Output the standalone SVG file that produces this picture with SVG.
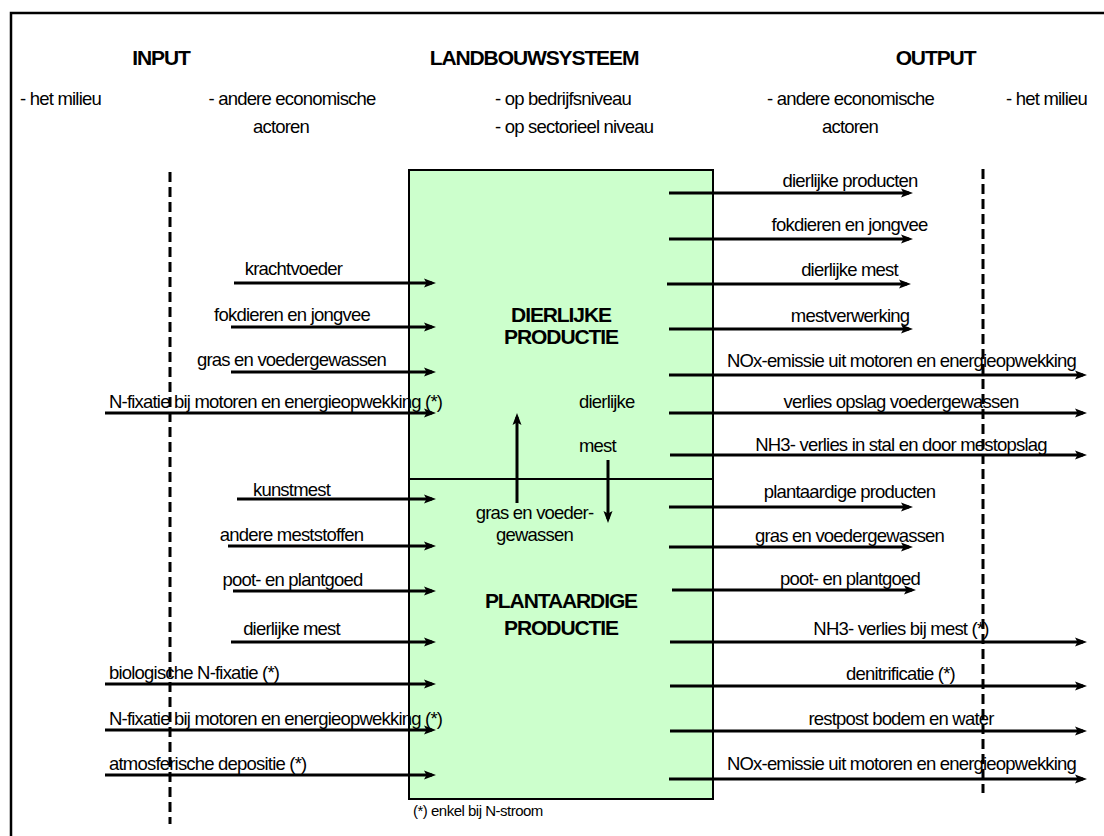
<svg xmlns="http://www.w3.org/2000/svg" width="1104" height="836" viewBox="0 0 1104 836">
<defs>
<style>
text{font-family:"Liberation Sans",Arial,sans-serif;fill:#000}
.t{font-size:18.5px;letter-spacing:-0.8px}
.m{text-anchor:middle}
.h{font-size:21px;font-weight:bold;letter-spacing:-1.1px;text-anchor:middle}
.fn{font-size:15px;letter-spacing:-0.5px}
.box{fill:#CCFFCC;stroke:#000;stroke-width:2}
.a{stroke:#000;stroke-width:3;fill:none;marker-end:url(#ah)}
.d{stroke:#000;stroke-width:3;stroke-dasharray:10 5;fill:none}
</style>
<marker id="ah" markerUnits="userSpaceOnUse" markerWidth="12" markerHeight="10" refX="8" refY="5" orient="auto">
<path d="M0,0.5 L12,5 L0,9.5 L2.5,5 z" fill="#000"/>
</marker>
</defs>
<rect width="1104" height="836" fill="#fff"/>
<path d="M11,836 V13 H1104" fill="none" stroke="#000" stroke-width="2.5"/>

<g id="headers">
<text class="h" x="161" y="65">INPUT</text>
<text class="h" x="534" y="65">LANDBOUWSYSTEEM</text>
<text class="h" x="935.5" y="65">OUTPUT</text>
<text class="t m" x="60.5" y="105">- het milieu</text>
<text class="t m" x="292" y="105">- andere economische</text>
<text class="t m" x="281" y="133">actoren</text>
<text class="t" x="495" y="105">- op bedrijfsniveau</text>
<text class="t" x="495" y="133">- op sectorieel niveau</text>
<text class="t m" x="850.5" y="105">- andere economische</text>
<text class="t m" x="850" y="133">actoren</text>
<text class="t m" x="1046.5" y="105">- het milieu</text>
</g>

<g id="dierlijke-productie">
<rect class="box" x="409" y="170" width="304" height="309"/>
<text class="h" x="561" y="322">DIERLIJKE</text>
<text class="h" x="561" y="344">PRODUCTIE</text>
</g>
<g id="plantaardige-productie">
<rect class="box" x="409" y="479" width="304" height="320"/>
<text class="h" x="561" y="608">PLANTAARDIGE</text>
<text class="h" x="561" y="635">PRODUCTIE</text>
</g>
<text class="fn" x="413" y="816">(*) enkel bij N-stroom</text>

<g id="labels">
<text class="t m" x="293.5" y="275">krachtvoeder</text>
<text class="t m" x="292" y="321">fokdieren en jongvee</text>
<text class="t m" x="291.5" y="366">gras en voedergewassen</text>
<text class="t" x="109" y="408">N-fixatie bij motoren en energieopwekking (*)</text>
<text class="t m" x="291.5" y="496">kunstmest</text>
<text class="t m" x="291.5" y="541">andere meststoffen</text>
<text class="t m" x="292.5" y="586">poot- en plantgoed</text>
<text class="t m" x="291.5" y="635">dierlijke mest</text>
<text class="t" x="109" y="679">biologische N-fixatie (*)</text>
<text class="t" x="109" y="725">N-fixatie bij motoren en energieopwekking (*)</text>
<text class="t" x="109" y="770">atmosferische depositie (*)</text>

<text class="t m" x="850" y="187">dierlijke producten</text>
<text class="t m" x="849.5" y="231">fokdieren en jongvee</text>
<text class="t m" x="849.5" y="276">dierlijke mest</text>
<text class="t m" x="850" y="322">mestverwerking</text>
<text class="t m" x="901.5" y="367">NOx-emissie uit motoren en energieopwekking</text>
<text class="t m" x="901" y="408">verlies opslag voedergewassen</text>
<text class="t m" x="901" y="451">NH3- verlies in stal en door mestopslag</text>
<text class="t m" x="849.5" y="498">plantaardige producten</text>
<text class="t m" x="849.5" y="542">gras en voedergewassen</text>
<text class="t m" x="850" y="585">poot- en plantgoed</text>
<text class="t m" x="901" y="635">NH3- verlies bij mest (*)</text>
<text class="t m" x="900.5" y="680">denitrificatie (*)</text>
<text class="t m" x="901" y="725">restpost bodem en water</text>
<text class="t m" x="901.5" y="770">NOx-emissie uit motoren en energieopwekking</text>

<text class="t" x="579" y="408">dierlijke</text>
<text class="t" x="579" y="452">mest</text>
<text class="t m" x="534.5" y="519">gras en voeder-</text>
<text class="t m" x="534.5" y="541">gewassen</text>
</g>

<g id="connectors">
<line class="a" x1="234" y1="283" x2="432" y2="283"/>
<line class="a" x1="231" y1="327" x2="432" y2="327"/>
<line class="a" x1="231" y1="372" x2="432" y2="372"/>
<line class="a" x1="105" y1="413" x2="432" y2="413"/>
<line class="a" x1="237" y1="499" x2="432" y2="499"/>
<line class="a" x1="228" y1="546" x2="432" y2="546"/>
<line class="a" x1="233" y1="591" x2="432" y2="591"/>
<line class="a" x1="231" y1="642" x2="432" y2="642"/>
<line class="a" x1="105" y1="684" x2="432" y2="684"/>
<line class="a" x1="105" y1="730" x2="432" y2="730"/>
<line class="a" x1="105" y1="775" x2="432" y2="775"/>

<line class="a" x1="669" y1="193" x2="909" y2="193"/>
<line class="a" x1="669" y1="239" x2="909" y2="239"/>
<line class="a" x1="667" y1="284" x2="907" y2="284"/>
<line class="a" x1="669" y1="329" x2="909" y2="329"/>
<line class="a" x1="669" y1="375" x2="1083" y2="375"/>
<line class="a" x1="669" y1="413" x2="1083" y2="413"/>
<line class="a" x1="670" y1="455" x2="1083" y2="455"/>
<line class="a" x1="669" y1="507" x2="909" y2="507"/>
<line class="a" x1="669" y1="547" x2="909" y2="547"/>
<line class="a" x1="672" y1="590" x2="912" y2="590"/>
<line class="a" x1="670" y1="642" x2="1083" y2="642"/>
<line class="a" x1="670" y1="686" x2="1083" y2="686"/>
<line class="a" x1="670" y1="731" x2="1083" y2="731"/>
<line class="a" x1="669" y1="779" x2="1083" y2="779"/>

<line class="a" x1="517" y1="503" x2="517" y2="417"/>
<line class="a" x1="608" y1="460" x2="608" y2="519"/>

<line class="d" x1="170" y1="172" x2="170" y2="824"/>
<line class="d" x1="983" y1="169" x2="983" y2="793"/>
</g>
</svg>
